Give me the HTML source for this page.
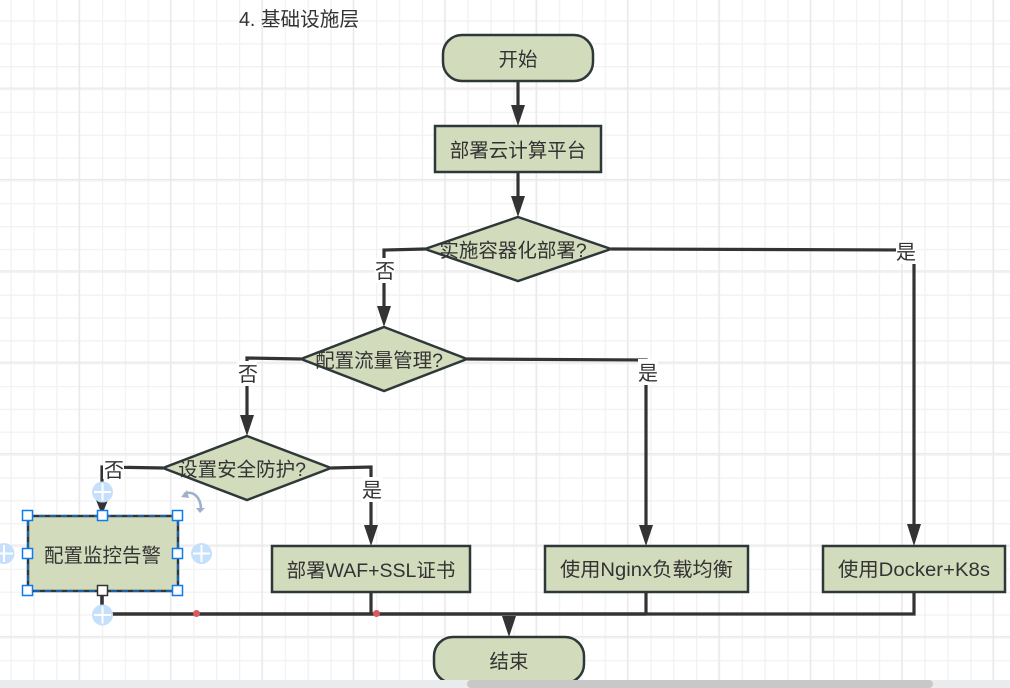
<!DOCTYPE html>
<html><head><meta charset="utf-8"><style>
html,body{margin:0;padding:0;background:#fff;width:1010px;height:688px;overflow:hidden}
text{font-family:"Liberation Sans","WenQuanYi Zen Hei","Noto Sans CJK SC",sans-serif;fill:#333;font-size:19.5px;text-anchor:middle}
.s{fill:#d3dbbd;stroke:#2f3838;stroke-width:2.5}
.c{fill:none;stroke:#333;stroke-width:3.2}
.a{fill:#333}
.l{fill:#fff}
.h{fill:#fff;stroke:#0a7cf0;stroke-width:1.5}
.h2{fill:#fff;stroke:#333;stroke-width:1.5}
</style></head><body>
<svg width="1010" height="688" viewBox="0 0 1010 688" xmlns="http://www.w3.org/2000/svg" style="display:block">
<defs>
<pattern id="minor" x="10.5" y="-2.5" width="22.85" height="22.85" patternUnits="userSpaceOnUse"><path d="M0.5 0V22.85M0 0.5H22.85" stroke="#f1f1f1" stroke-width="1.5" fill="none"/></pattern>
<pattern id="major" x="78.5" y="87.5" width="91.4" height="91.4" patternUnits="userSpaceOnUse"><path d="M0.5 0V91.4M0 0.5H91.4" stroke="#e9e9e9" stroke-width="1.6" fill="none"/></pattern>
</defs>
<rect width="1010" height="688" fill="#fff"/>
<rect width="1010" height="688" fill="url(#minor)"/>
<rect width="1010" height="688" fill="url(#major)"/>

<text x="299" y="26" style="font-size:20px" textLength="120" lengthAdjust="spacingAndGlyphs">4. 基础设施层</text>

<!-- connectors -->
<g class="c">
<path d="M518 81V108"/><path d="M518 172V198"/>
<path d="M425 249L384 250V310"/>
<path d="M611 249L914 250V526"/>
<path d="M301 359L247 358V416"/>
<path d="M467 359L646 360V526"/>
<path d="M163 468L102 467V500"/>
<path d="M331 468L371 467V526"/>
<path d="M102 591V614H646" stroke-width="3.6"/>
<path d="M646 614H914V592"/>
<path d="M371 592V614"/><path d="M646 592V614"/>
</g>
<g class="a">
<path d="M511 105H525L518 126Z"/>
<path d="M511 196H525L518 217Z"/>
<path d="M377 306H391L384 327Z"/>
<path d="M240 415H254L247 436Z"/>
<path d="M364 525H378L371 546Z"/>
<path d="M639 525H653L646 546Z"/>
<path d="M907 524H921L914 546Z"/>
<path d="M502 616H516L509 637Z"/>
<path d="M96 500H108L102 515Z"/>
</g>

<!-- labels -->
<rect class="l" x="375" y="258" width="20" height="25"/>
<text x="385" y="278" style="font-size:20px">否</text>
<rect class="l" x="896" y="240" width="20" height="24"/>
<text x="906" y="259" style="font-size:20px">是</text>
<rect class="l" x="237" y="361" width="20" height="25"/>
<text x="248" y="381" style="font-size:20px">否</text>
<rect class="l" x="638" y="359" width="20" height="26"/>
<text x="648" y="380" style="font-size:20px">是</text>
<rect class="l" x="103" y="459" width="21" height="20"/>
<text x="114" y="477" style="font-size:20px">否</text>
<rect class="l" x="362" y="477" width="21" height="25"/>
<text x="372" y="497" style="font-size:20px">是</text>

<!-- shapes -->
<rect class="s" x="443" y="35" width="150" height="46" rx="19"/>
<text x="518" y="66">开始</text>
<rect class="s" x="435" y="126" width="166" height="46"/>
<text x="518" y="157">部署云计算平台</text>
<path class="s" d="M518 217L611 249L518 281L425 249Z"/>
<text x="513" y="257">实施容器化部署?</text>
<path class="s" d="M384 327L467 359L384 391L301 359Z"/>
<text x="379" y="367">配置流量管理?</text>
<path class="s" d="M247 436L331 468L247 500L163 468Z"/>
<text x="242" y="476">设置安全防护?</text>
<rect class="s" x="28" y="516" width="150" height="75"/>
<text x="102.500" y="562">配置监控告警</text>
<rect class="s" x="272" y="546" width="198" height="46"/>
<text x="371" y="577">部署WAF+SSL证书</text>
<rect class="s" x="545" y="546" width="203" height="46"/>
<text x="646.500" y="576" textLength="173" lengthAdjust="spacingAndGlyphs">使用Nginx负载均衡</text>
<rect class="s" x="823" y="546" width="182" height="46"/>
<text x="914" y="576" textLength="152" lengthAdjust="spacingAndGlyphs">使用Docker+K8s</text>
<rect class="s" x="434" y="637" width="150" height="46" rx="19"/>
<text x="509" y="668">结束</text>

<!-- selection -->
<rect x="28" y="516" width="150" height="75" fill="none" stroke="#0a7cf0" stroke-width="1.3" stroke-dasharray="6 5"/>
<g fill="#c6e0fb">
<circle cx="102.500" cy="492" r="10.500"/><circle cx="102.500" cy="615" r="10.500"/>
<circle cx="4" cy="553.500" r="10.500"/><circle cx="201.500" cy="553.500" r="10.500"/>
</g>
<g stroke="#fff" stroke-width="2" fill="none">
<path d="M94 492H111M102.500 483.500V500.500"/>
<path d="M94 615H111M102.500 606.500V623.500"/>
<path d="M-5 553.500H13M4 545V562"/>
<path d="M193 553.500H210M201.500 545V562"/>
</g>
<circle cx="196.500" cy="613.500" r="3.500" fill="#d9595c"/>
<circle cx="376.500" cy="613.500" r="3.500" fill="#d9595c"/>
<g>
<rect class="h" x="22.500" y="510.500" width="10" height="10"/>
<rect class="h" x="97.500" y="510.500" width="10" height="10"/>
<rect class="h" x="172.500" y="510.500" width="10" height="10"/>
<rect class="h" x="22.500" y="548.500" width="10" height="10"/>
<rect class="h" x="172.500" y="548.500" width="10" height="10"/>
<rect class="h" x="22.500" y="585.500" width="10" height="10"/>
<rect class="h2" x="97.500" y="585.500" width="10" height="10"/>
<rect class="h" x="172.500" y="585.500" width="10" height="10"/>
</g>
<path d="M184 494C192 490 201 496 201 510" fill="none" stroke="#9fb0c8" stroke-width="2.500"/>
<path d="M181 497L187 490L189 498Z" fill="#9fb0c8"/>
<path d="M196 508L205 508L200 513Z" fill="#9fb0c8"/>

<!-- scrollbar -->
<rect x="0" y="680" width="1010" height="8" fill="#eaebed"/>
<rect x="467" y="680" width="466" height="8" rx="4" fill="#c8c8c8"/>
</svg>
</body></html>
